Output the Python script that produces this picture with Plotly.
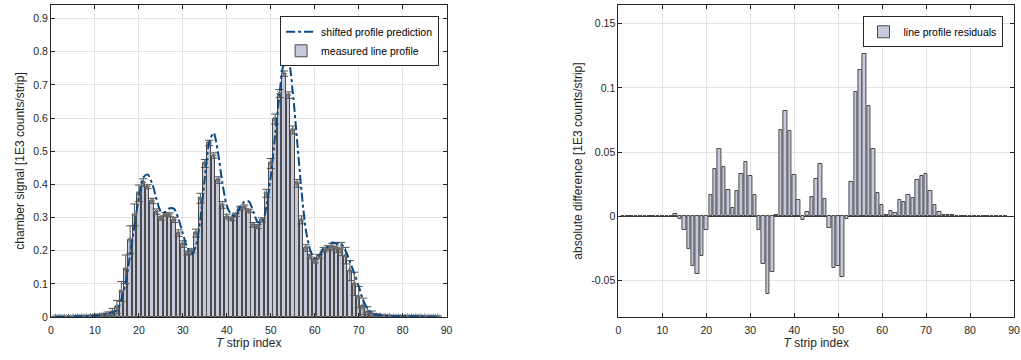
import plotly.graph_objects as go

strip_index = list(range(1, 89))

measured_profile = [
    0.001, 0.001, 0.001, 0.001, 0.001, 0.002, 0.002, 0.002, 0.003, 0.004,
    0.005, 0.007, 0.010, 0.016, 0.030, 0.077, 0.144, 0.233, 0.308, 0.373,
    0.405, 0.393, 0.350, 0.318, 0.298, 0.310, 0.308, 0.293, 0.253, 0.220,
    0.193, 0.200, 0.253, 0.358, 0.463, 0.525, 0.487, 0.413, 0.338, 0.303,
    0.296, 0.308, 0.328, 0.333, 0.320, 0.278, 0.273, 0.293, 0.373, 0.463,
    0.597, 0.674, 0.734, 0.669, 0.564, 0.403, 0.293, 0.208, 0.183, 0.168,
    0.183, 0.203, 0.208, 0.212, 0.210, 0.205, 0.185, 0.140, 0.100, 0.060,
    0.032, 0.016, 0.008, 0.005, 0.004, 0.003, 0.003, 0.002, 0.002, 0.002,
    0.002, 0.002, 0.002, 0.002, 0.001, 0.001, 0.001, 0.001,
]

measured_error = [
    0.001, 0.001, 0.001, 0.001, 0.001, 0.001, 0.001, 0.002, 0.002, 0.002,
    0.003, 0.003, 0.005, 0.010, 0.020, 0.030, 0.043, 0.042, 0.033, 0.025,
    0.012, 0.006, 0.008, 0.008, 0.006, 0.005, 0.006, 0.008, 0.010, 0.010,
    0.006, 0.006, 0.012, 0.015, 0.012, 0.008, 0.008, 0.010, 0.010, 0.007,
    0.005, 0.005, 0.006, 0.005, 0.005, 0.007, 0.006, 0.006, 0.012, 0.015,
    0.015, 0.012, 0.008, 0.010, 0.012, 0.012, 0.012, 0.010, 0.006, 0.005,
    0.006, 0.007, 0.008, 0.010, 0.015, 0.020, 0.025, 0.030, 0.035, 0.032,
    0.025, 0.015, 0.010, 0.005, 0.003, 0.002, 0.002, 0.002, 0.002, 0.002,
    0.002, 0.002, 0.002, 0.002, 0.002, 0.002, 0.002, 0.002,
]

shifted_prediction = [
    0.001, 0.001, 0.001, 0.001, 0.001, 0.002, 0.002, 0.002, 0.003, 0.004,
    0.005, 0.007, 0.011, 0.014, 0.020, 0.052, 0.105, 0.188, 0.277, 0.362,
    0.421, 0.430, 0.403, 0.356, 0.318, 0.317, 0.328, 0.326, 0.296, 0.251,
    0.210, 0.190, 0.216, 0.297, 0.420, 0.526, 0.555, 0.495, 0.404, 0.336,
    0.309, 0.305, 0.331, 0.348, 0.349, 0.319, 0.287, 0.284, 0.333, 0.424,
    0.550, 0.672, 0.761, 0.766, 0.678, 0.530, 0.379, 0.261, 0.201, 0.177,
    0.184, 0.207, 0.211, 0.225, 0.221, 0.221, 0.200, 0.168, 0.131, 0.093,
    0.052, 0.025, 0.011, 0.006, 0.005, 0.004, 0.003, 0.002, 0.002, 0.002,
    0.002, 0.002, 0.002, 0.002, 0.001, 0.001, 0.001, 0.001,
]

profile_residuals = [
    0.0002, 0.0002, 0.0002, 0.0002, 0.0002, 0.0002, 0.0003, 0.0003, 0.0004, 0.0005,
    0.0005, 0.0003, 0.0015, -0.0020, -0.0104, -0.0254, -0.0387, -0.0447, -0.0310, -0.0110,
    0.0164, 0.0366, 0.0527, 0.0384, 0.0202, 0.0067, 0.0200, 0.0327, 0.0426, 0.0314,
    0.0169, -0.0104, -0.0369, -0.0607, -0.0434, 0.0013, 0.0675, 0.0818, 0.0662, 0.0325,
    0.0125, -0.0026, 0.0031, 0.0151, 0.0293, 0.0410, 0.0135, -0.0091, -0.0400, -0.0387,
    -0.0472, -0.0021, 0.0267, 0.0968, 0.1142, 0.1267, 0.0862, 0.0527, 0.0184, 0.0090,
    0.0010, 0.0040, 0.0026, 0.0130, 0.0114, 0.0164, 0.0145, 0.0280, 0.0314, 0.0327,
    0.0200, 0.0088, 0.0030, 0.0013, 0.0010, 0.0010, 0.0005, 0.0004, 0.0003, 0.0003,
    0.0003, 0.0003, 0.0003, 0.0003, 0.0003, 0.0003, 0.0003, 0.0003,
]

x_ticks = [0, 10, 20, 30, 40, 50, 60, 70, 80, 90]
left_y_ticks = [0, 0.1, 0.2, 0.3, 0.4, 0.5, 0.6, 0.7, 0.8, 0.9]
right_y_ticks = [-0.05, 0, 0.05, 0.1, 0.15]
right_y_labels = ["-0.05", "0", "0.05", "0.1", "0.15"]

BAR_FILL = "#c6c9db"
BAR_EDGE = "#4a4a4a"
CURVE = "#0b4a82"
AXIS = "#262626"
GRID = "#e3e3e3"
FONT = "Liberation Sans, Arial, sans-serif"

fig = go.Figure()

fig.add_trace(go.Bar(
    x=strip_index, y=measured_profile, width=0.8,
    marker=dict(color=BAR_FILL, line=dict(color=BAR_EDGE, width=1)),
    name="measured line profile", legend="legend", legendrank=2,
    xaxis="x", yaxis="y",
))
fig.add_trace(go.Scatter(
    x=strip_index, y=measured_profile, mode="markers",
    marker=dict(symbol="asterisk-open", size=5, color="#707070",
                line=dict(color="#707070", width=1)),
    error_y=dict(type="data", array=measured_error, color="#555555",
                 thickness=1, width=4),
    showlegend=False, xaxis="x", yaxis="y",
))
fig.add_trace(go.Scatter(
    x=strip_index, y=shifted_prediction, mode="lines",
    line=dict(color=CURVE, width=2, dash="dashdot", shape="spline", smoothing=0.8),
    name="shifted profile prediction", legend="legend", legendrank=1,
    xaxis="x", yaxis="y",
))
fig.add_trace(go.Bar(
    x=strip_index, y=profile_residuals, width=0.8,
    marker=dict(color=BAR_FILL, line=dict(color=BAR_EDGE, width=1)),
    name="line profile residuals", legend="legend2",
    xaxis="x2", yaxis="y2",
))

axis_common = dict(
    showline=True, linecolor=AXIS, linewidth=1, mirror="ticks",
    ticks="inside", ticklen=4, tickcolor=AXIS,
    showgrid=True, gridcolor=GRID, gridwidth=1,
    tickfont=dict(family=FONT, size=10.5, color=AXIS),
    automargin=False,
)

W, H = 1021, 360
ml, mr, mt, mb = 50.5, 6.5, 4.7, 43.0
pw = W - ml - mr
ph = H - mt - mb
TITLE_FONT = dict(family=FONT, size=12, color=AXIS)

fig.update_layout(
    width=W, height=H,
    margin=dict(l=ml, r=mr, t=mt, b=mb, pad=0, autoexpand=False),
    paper_bgcolor="white", plot_bgcolor="white",
    font=dict(family=FONT, size=10.5, color=AXIS),
    bargap=0, barmode="overlay",
    xaxis=dict(domain=[0, 396 / pw], range=[0, 90], tickvals=x_ticks,
               title=dict(text="<i>T</i> strip index", font=TITLE_FONT, standoff=3),
               ticklabelstandoff=3, zeroline=False,
               anchor="y", **axis_common),
    yaxis=dict(domain=[0, 1], range=[0, 0.941], tickvals=left_y_ticks,
               title=dict(text="chamber signal [1E3 counts/strip]", font=TITLE_FONT, standoff=6),
               zeroline=False, anchor="x", **axis_common),
    xaxis2=dict(domain=[(618.5 - ml) / pw, 1], range=[0, 90], tickvals=x_ticks,
                title=dict(text="<i>T</i> strip index", font=TITLE_FONT, standoff=3),
                ticklabelstandoff=3, zeroline=False,
                anchor="y2", **axis_common),
    yaxis2=dict(domain=[0, 1], range=[-0.0784, 0.1646], tickvals=right_y_ticks,
                ticktext=right_y_labels,
                title=dict(text="absolute difference [1E3 counts/strip]", font=TITLE_FONT, standoff=6),
                zeroline=True, zerolinecolor="#3a3a3a", zerolinewidth=1,
                anchor="x2", **axis_common),
    legend=dict(x=(439 - ml) / pw, xanchor="right", y=1 - (16 - mt) / ph,
                yanchor="top", bgcolor="white", bordercolor=AXIS, borderwidth=1,
                font=dict(family=FONT, size=10.5, color="black"),
                tracegroupgap=0, itemwidth=30),
    legend2=dict(x=(1003 - ml) / pw, xanchor="right", y=1 - (16 - mt) / ph,
                 yanchor="top", bgcolor="white", bordercolor=AXIS, borderwidth=1,
                 font=dict(family=FONT, size=10.5, color="black"), itemwidth=30),
)

fig.write_html(
    "out.html",
    config={"displayModeBar": False},
    post_script="document.body.style.margin='0';document.body.style.padding='0';",
)
